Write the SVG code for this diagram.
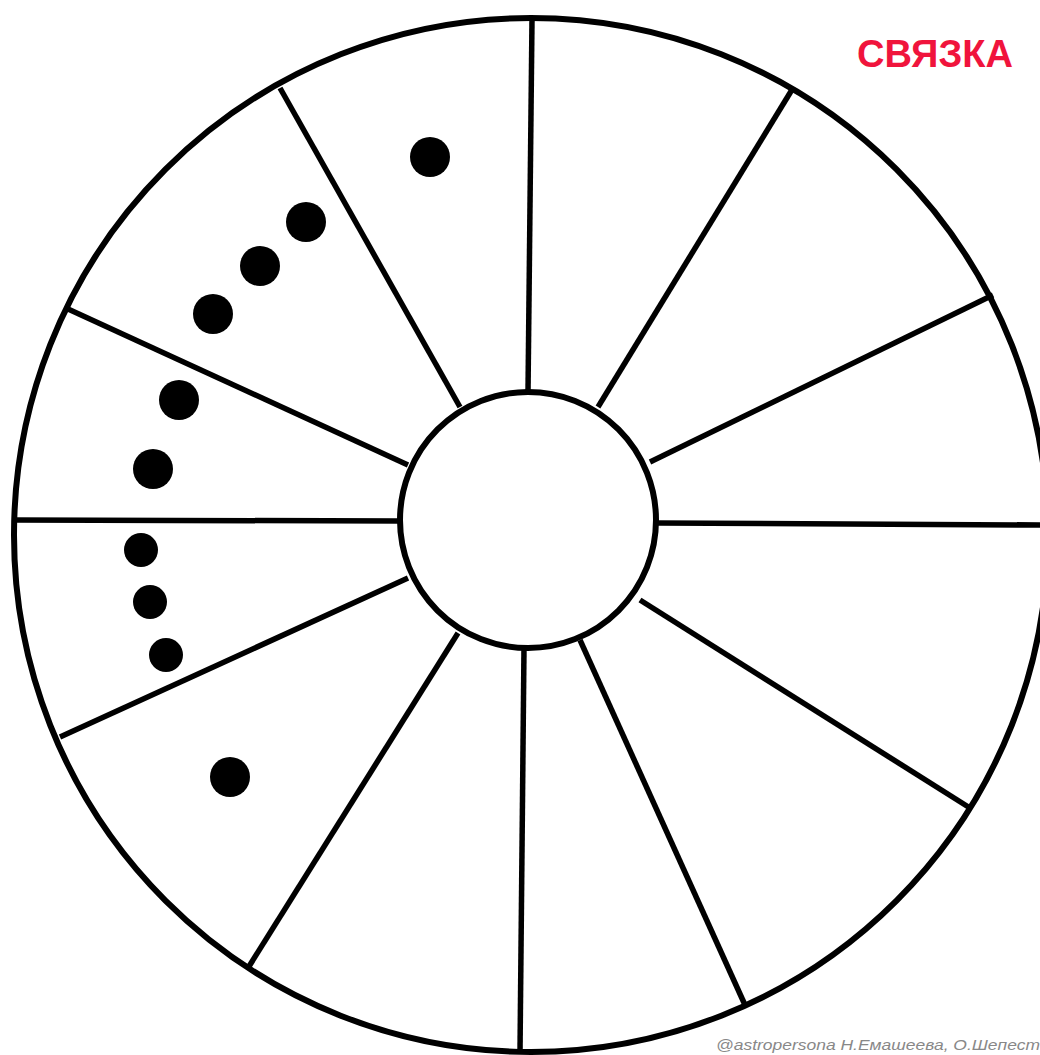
<svg xmlns="http://www.w3.org/2000/svg" width="1040" height="1055" viewBox="0 0 1040 1055">
<style>
.ln{stroke:#000;stroke-width:5.5;fill:none;stroke-linecap:butt}
.ring{stroke:#000;stroke-width:6;fill:#fff}
.dot{fill:#000}
.title{font-family:"Liberation Sans",Arial,sans-serif;font-weight:bold;font-size:38px;fill:#f0143c}
.wm{font-family:"Liberation Sans",Arial,sans-serif;font-style:italic;font-size:15px;fill:#888}
</style>
<rect width="1040" height="1055" fill="#fff"/>
<g id="outer"><ellipse class="ring" cx="531" cy="535" rx="517" ry="517"/></g>
<g id="spokes">
<line class="ln" x1="532" y1="20" x2="528" y2="392"/>
<line class="ln" x1="280" y1="88" x2="460" y2="407"/>
<line class="ln" x1="68" y1="309" x2="408" y2="465"/>
<line class="ln" x1="15" y1="520" x2="400" y2="521"/>
<line class="ln" x1="60" y1="737" x2="408" y2="578"/>
<line class="ln" x1="248" y1="968" x2="458" y2="633"/>
<line class="ln" x1="520" y1="1052" x2="524" y2="648"/>
<line class="ln" x1="745" y1="1005" x2="580" y2="640"/>
<line class="ln" x1="970" y1="808" x2="640" y2="600"/>
<line class="ln" x1="1040" y1="525" x2="656" y2="523"/>
<line class="ln" x1="993" y1="295" x2="650" y2="462"/>
<line class="ln" x1="793" y1="88" x2="598" y2="407"/>
</g>
<g id="inner"><circle class="ring" cx="528" cy="520" r="128"/></g>
<g id="dots">
<circle class="dot" cx="430" cy="157" r="20"/>
<circle class="dot" cx="306" cy="222" r="20"/>
<circle class="dot" cx="260" cy="266" r="20"/>
<circle class="dot" cx="213" cy="314" r="20"/>
<circle class="dot" cx="179" cy="400" r="20"/>
<circle class="dot" cx="153" cy="469" r="20"/>
<circle class="dot" cx="141" cy="550" r="17"/>
<circle class="dot" cx="150" cy="602" r="17"/>
<circle class="dot" cx="166" cy="655" r="17"/>
<circle class="dot" cx="230" cy="777" r="20"/>
</g>
<g id="title"><text class="title" x="857" y="67" textLength="156" lengthAdjust="spacingAndGlyphs">СВЯЗКА</text></g>
<g id="watermark"><text class="wm" x="716" y="1050" textLength="324" lengthAdjust="spacingAndGlyphs">@astropersona Н.Емашеева, О.Шепест</text></g>
</svg>
